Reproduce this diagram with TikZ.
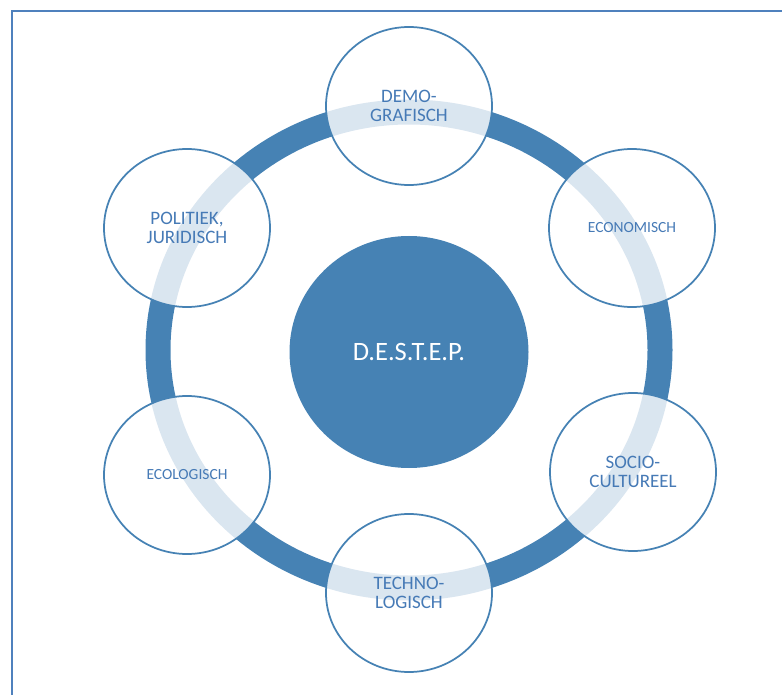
\documentclass[tikz,border=0pt]{standalone}
\usepackage{fontspec}
\setmainfont{Carlito}
\usetikzlibrary{shapes.geometric}
\definecolor{ringblue}{RGB}{70,130,180}
\definecolor{frameblue}{RGB}{79,129,189}
\definecolor{labelblue}{RGB}{70,122,182}
\tikzset{factor/.style={ellipse,draw=ringblue,line width=1.75pt,fill=white,fill opacity=0.8,text opacity=1,
    minimum width=166pt,minimum height=158pt,inner sep=0pt,align=center,text=labelblue}}

\begin{document}
\begin{tikzpicture}[x=1pt,y=-1pt,
        big/.style={font=\fontsize{19}{19.5}\selectfont},
        small/.style={font=\fontsize{15.5}{16}\selectfont}]
        \useasboundingbox (0,0) rectangle (782,695);
        \draw[frameblue,line width=2.5pt] (12,700) -- (12,11) -- (790,11);
        \draw[ringblue,line width=25pt] (409,350) ellipse [x radius=251pt, y radius=238pt];
        \node[factor,big] (demografisch) at (409,106) {DEMO-\\GRAFISCH};
        \node[factor,small] (economisch) at (632,228) {ECONOMISCH};
        \node[factor,big] (socio) at (633,472) {SOCIO-\\CULTUREEL};
        \node[factor,big] (techno) at (409,593) {TECHNO-\\LOGISCH};
        \node[factor,small] (ecologisch) at (187,475) {ECOLOGISCH};
        \node[factor,big] (politiek) at (187,228) {POLITIEK,\\JURIDISCH};
        \node[ellipse,fill=ringblue,minimum width=239pt,minimum height=232pt,inner sep=0pt,
            text=white,font=\fontsize{26.5}{30}\selectfont] (destep) at (409,352) {D.E.S.T.E.P.};
    \end{tikzpicture}
\end{document}
